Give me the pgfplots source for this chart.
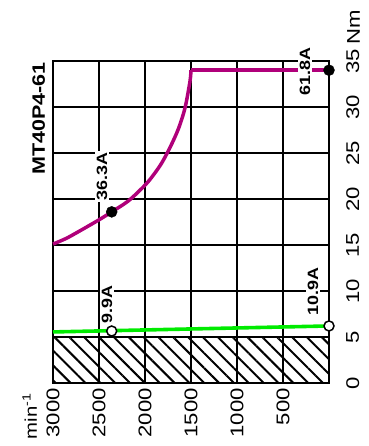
\documentclass[border=0pt]{standalone}
\usepackage{fontspec}
\setmainfont[FakeStretch=1.2]{Liberation Sans}
\usepackage{pgfplots}
\pgfplotsset{compat=1.18}
\usetikzlibrary{patterns.meta}
\definecolor{mag}{RGB}{176,0,122}
\definecolor{grn}{RGB}{0,235,0}
\tikzset{lab/.style={rotate=90, fill=white, inner sep=1.5bp, font=\bfseries\fontsize{15}{17}\selectfont}}
\begin{document}
\begin{tikzpicture}
\begin{axis}[
 scale only axis, width=276bp, height=322bp,
 xmin=0, xmax=3000, ymin=0, ymax=35,
 x dir=reverse,
 xtick={500,1000,1500,2000,2500,3000},
 xticklabels={500,1000,1500,2000,2500,3000},
 ytick={0,5,10,15,20,25,30,35},
 yticklabels={0,5,10,15,20,25,30,35},
 yticklabel pos=right,
 grid=major,
 major grid style={black, line width=2bp},
 axis line style={black, line width=2bp},
 major tick length=0pt,
 xticklabel style={rotate=90, anchor=east, font=\fontsize{18.5}{20}\selectfont, inner sep=0pt},
 xticklabel shift=5bp,
 yticklabel style={rotate=90, anchor=north, font=\fontsize{18.5}{20}\selectfont, inner sep=0pt},
 yticklabel shift=17bp,
 clip=false,
]
\addplot[draw=black, line width=2bp, pattern={Lines[angle=-45,distance=10.5bp,line width=2bp]}]
  coordinates {(0,0)(3000,0)(3000,5)(0,5)(0,0)};
\addplot[grn, line width=3.6bp] coordinates {(3000,5.55)(0,6.2)};
\addplot[mag, line width=3.5bp, smooth, tension=0.5] coordinates {
 (3000,15.1)(2860,15.7)(2723,16.45)(2506,17.7)(2362,18.6)(2180,19.8)(2000,21.5)
 (1909,22.6)(1819,23.9)(1728,25.6)(1638,27.6)(1565,29.9)(1511,32.8)(1500,34)};
\addplot[mag, line width=3.5bp] coordinates {(1500,34)(0,34)};
\addplot[only marks, mark=*, mark size=5.5bp, black] coordinates {(2362,18.6)(0,34)};
\addplot[only marks, mark=*, mark size=5bp, mark options={fill=white, draw=black, line width=1.5bp}]
  coordinates {(2362,5.65)(0,6.2)};
\node[lab, anchor=west] at (axis cs:2467,19.7) {36.3A};
\node[lab, anchor=west] at (axis cs:2413,6.3) {9.9A};
\node[lab, anchor=west] at (axis cs:174,7.17) {10.9A};
\node[lab, anchor=west] at (axis cs:261,31.1) {61.8A};
\node[rotate=90, anchor=base east, font=\bfseries\fontsize{18}{20}\selectfont, inner sep=0pt]
  at ([shift={(-8bp,-1bp)}]axis description cs:0,1) {MT40P4-61};
\node[rotate=90, anchor=base east, font=\fontsize{17}{20}\selectfont, inner sep=0pt]
  at ([shift={(-16bp,-10bp)}]axis description cs:0,0) {min\textsuperscript{-1}};
\node[rotate=90, anchor=north west, font=\fontsize{18.5}{20}\selectfont, inner sep=0pt]
  at ([shift={(18bp,16bp)}]axis description cs:1,1) {Nm};
\path (axis description cs:0,0) ++(-53bp,-63bp) rectangle ++(369bp,446bp);
\end{axis}
\end{tikzpicture}
\end{document}
